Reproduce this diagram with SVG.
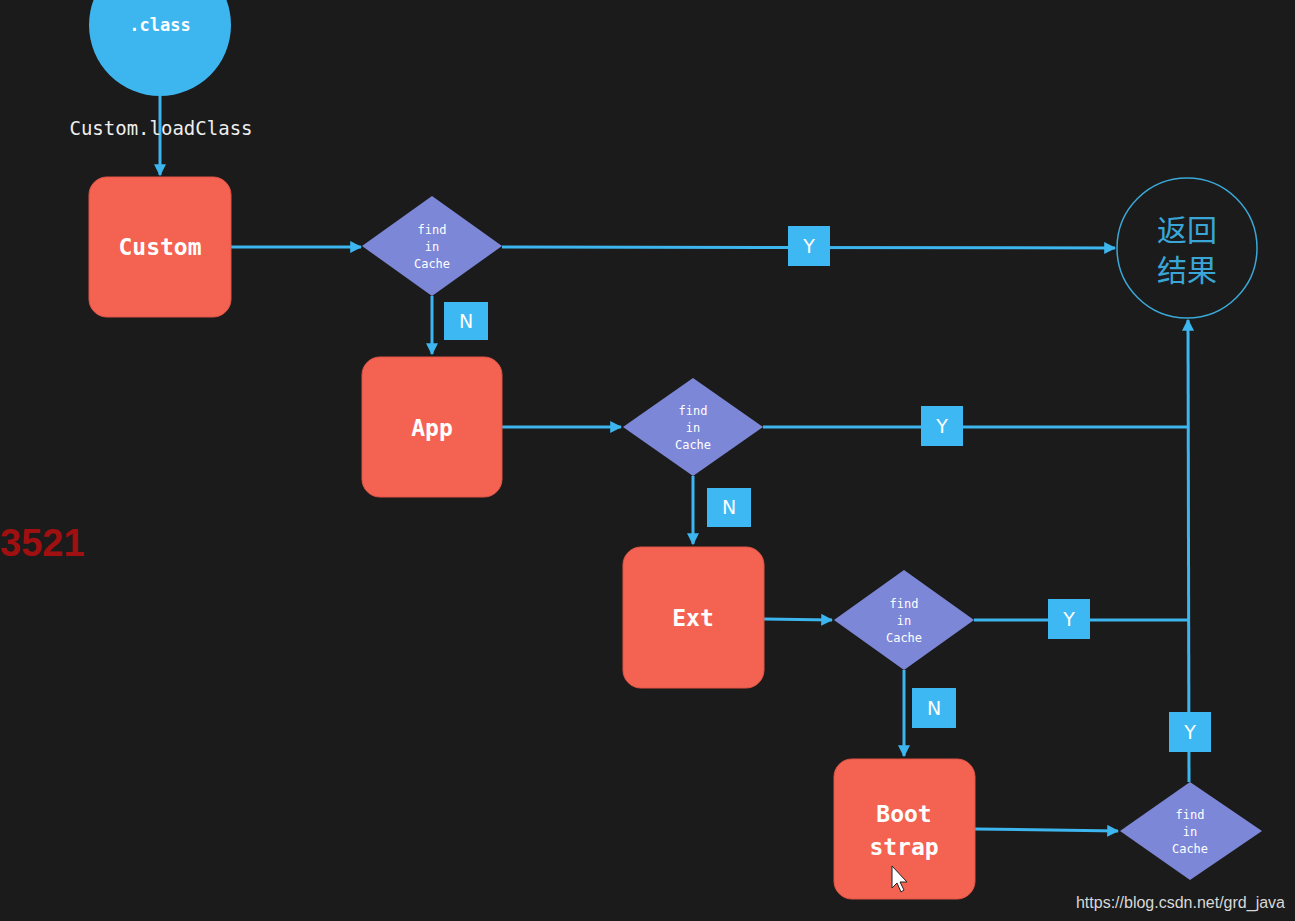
<svg xmlns="http://www.w3.org/2000/svg" width="1295" height="921" viewBox="0 0 1295 921">
<style>
.bg{fill:#1b1b1b}
.ln{stroke:#3db5ee;stroke-width:3;fill:none}
.box{fill:#f46352;stroke:#e05545;stroke-width:1}
.dia{fill:#7c87d8}
.lbl{fill:#3db8f2}
.bt{font-family:"DejaVu Sans Mono","Liberation Mono",monospace;font-size:23px;fill:#ffffff;text-anchor:middle;font-weight:bold}
.dt{font-family:"DejaVu Sans Mono","Liberation Mono",monospace;font-size:12px;fill:#ffffff;text-anchor:middle}
.yn{font-family:"DejaVu Sans","Liberation Sans",sans-serif;font-size:19px;fill:#ffffff;text-anchor:middle}
.cjk{font-family:"Noto Sans CJK SC",sans-serif;font-size:30px;fill:#3aa6d8;text-anchor:middle}
</style>
<defs>
<marker id="ah" viewBox="0 0 10 10" refX="9" refY="5" markerWidth="4" markerHeight="4" orient="auto" markerUnits="strokeWidth">
<path d="M0,0 L10,5 L0,10 z" fill="#3db5ee"/>
</marker>
</defs>
<rect class="bg" x="0" y="0" width="1295" height="921"/>
<g id="connectors">
<line class="ln" x1="160" y1="96" x2="160" y2="175" marker-end="url(#ah)"/>
<line class="ln" x1="231" y1="247" x2="361" y2="247" marker-end="url(#ah)"/>
<line class="ln" x1="502" y1="247" x2="1115" y2="248" marker-end="url(#ah)"/>
<line class="ln" x1="432" y1="296" x2="432" y2="354" marker-end="url(#ah)"/>
<line class="ln" x1="502" y1="427" x2="621" y2="427" marker-end="url(#ah)"/>
<line class="ln" x1="763" y1="427" x2="1188" y2="427"/>
<line class="ln" x1="693" y1="476" x2="693" y2="544" marker-end="url(#ah)"/>
<line class="ln" x1="764" y1="619" x2="832" y2="620" marker-end="url(#ah)"/>
<line class="ln" x1="974" y1="620" x2="1188" y2="620"/>
<line class="ln" x1="904" y1="670" x2="904" y2="756" marker-end="url(#ah)"/>
<line class="ln" x1="975" y1="829" x2="1118" y2="831" marker-end="url(#ah)"/>
<line class="ln" x1="1189" y1="782" x2="1188" y2="320" marker-end="url(#ah)"/>
<text x="161" y="135" font-family="DejaVu Sans Mono,Liberation Mono,monospace" font-size="19" fill="#eeeeee" text-anchor="middle">Custom.loadClass</text>
<rect class="lbl" x="788" y="226" width="42" height="40"/><text class="yn" x="809" y="253">Y</text>
<rect class="lbl" x="444" y="302" width="44" height="38"/><text class="yn" x="466" y="328">N</text>
<rect class="lbl" x="921" y="406" width="42" height="40"/><text class="yn" x="942" y="433">Y</text>
<rect class="lbl" x="707" y="488" width="44" height="39"/><text class="yn" x="729" y="514">N</text>
<rect class="lbl" x="1048" y="599" width="42" height="40"/><text class="yn" x="1069" y="626">Y</text>
<rect class="lbl" x="912" y="688" width="44" height="40"/><text class="yn" x="934" y="715">N</text>
<rect class="lbl" x="1169" y="712" width="42" height="40"/><text class="yn" x="1190" y="739">Y</text>
</g>
<g id="class">
<circle cx="160" cy="25" r="71" fill="#3db6f0"/>
<text x="160" y="31" font-family="DejaVu Sans Mono,Liberation Mono,monospace" font-size="17" font-weight="bold" fill="#ffffff" text-anchor="middle">.class</text>
</g>
<g id="custom">
<rect class="box" x="89" y="177" width="142" height="140" rx="18"/>
<text class="bt" x="160" y="255">Custom</text>
</g>
<g id="find1">
<polygon class="dia" points="432,196 502,246 432,296 362,246"/>
<text class="dt" x="432" y="234">find</text><text class="dt" x="432" y="251">in</text><text class="dt" x="432" y="268">Cache</text>
</g>
<g id="result">
<circle cx="1187" cy="248" r="70" fill="none" stroke="#3aa8d8" stroke-width="1.5"/>
<text class="cjk" x="1187" y="241">返回</text>
<text class="cjk" x="1187" y="281">结果</text>
</g>
<g id="app">
<rect class="box" x="362" y="357" width="140" height="140" rx="18"/>
<text class="bt" x="432" y="436">App</text>
</g>
<g id="find2">
<polygon class="dia" points="693,378 763,427 693,476 623,427"/>
<text class="dt" x="693" y="415">find</text><text class="dt" x="693" y="432">in</text><text class="dt" x="693" y="449">Cache</text>
</g>
<g id="ext">
<rect class="box" x="623" y="547" width="141" height="141" rx="18"/>
<text class="bt" x="693" y="626">Ext</text>
</g>
<g id="find3">
<polygon class="dia" points="904,570 974,620 904,670 834,620"/>
<text class="dt" x="904" y="608">find</text><text class="dt" x="904" y="625">in</text><text class="dt" x="904" y="642">Cache</text>
</g>
<g id="bootstrap">
<rect class="box" x="834" y="759" width="141" height="140" rx="18"/>
<text class="bt" x="904" y="822">Boot</text>
<text class="bt" x="904" y="855">strap</text>
</g>
<g id="find4">
<polygon class="dia" points="1190,782 1262,831 1190,880 1120,831"/>
<text class="dt" x="1190" y="819">find</text><text class="dt" x="1190" y="836">in</text><text class="dt" x="1190" y="853">Cache</text>
</g>
<polygon points="892,866 892,888 897,883 901,892 904,890 900,882 907,882" fill="#ffffff" stroke="#222" stroke-width="1"/>
<text x="0" y="556" font-family="Liberation Sans,Arial,sans-serif" font-size="38" font-weight="bold" fill="#a01010">3521</text>
<text x="1285" y="908" font-family="Liberation Sans,Arial,sans-serif" font-size="16" fill="#d8d8d8" text-anchor="end">https://blog.csdn.net/grd_java</text>
</svg>
